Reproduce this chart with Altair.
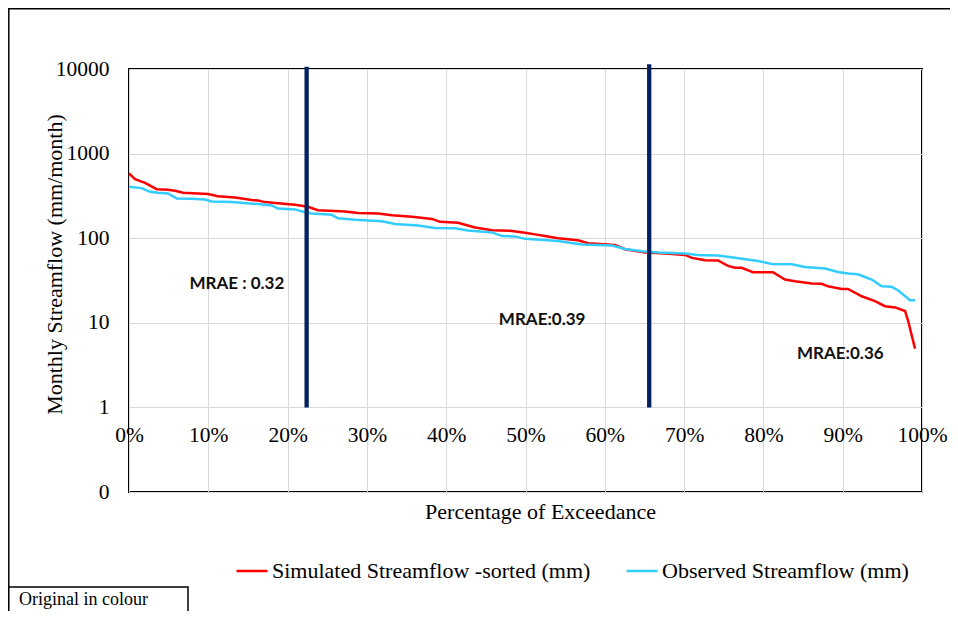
import altair as alt
import pandas as pd

# ---- data ----
series_names = ["Simulated Streamflow -sorted (mm)", "Observed Streamflow (mm)"]
series_colors = ["#ff0000", "#33ccff"]

sim_pct = [0.0, 0.76, 2.02, 3.49, 4.92, 5.80, 6.81, 9.96, 11.22, 13.37, 15.47, 16.27,
           17.15, 18.79, 20.93, 22.57, 23.83, 25.98, 27.24, 28.88, 31.40, 33.17, 35.69,
           38.21, 39.22, 41.49, 43.63, 45.78, 48.30, 49.94, 51.20, 52.46, 54.10, 56.62,
           57.88, 61.29, 62.55, 65.07, 67.59, 70.11, 71.00, 72.64, 74.27, 75.54, 76.42,
           77.26, 78.69, 81.21, 82.72, 83.98, 86.09, 87.35, 88.15, 89.87, 90.67, 92.40,
           94.07, 95.33, 96.60, 97.86, 98.23, 99.12]
sim_flow = [583, 499, 451, 380, 373, 363, 344, 332, 314, 303, 282, 279,
            267, 259, 248, 235, 214, 210, 207, 199, 196, 187, 179,
            169, 156, 152, 134, 124, 122, 116, 111, 106, 100, 94.7,
            87.3, 83.3, 74.1, 67.7, 65.9, 63.4, 58.5, 54.9, 54.5, 47.0, 44.8,
            44.6, 39.6, 39.6, 32.5, 31.0, 29.1, 28.9, 27.0, 25.1, 25.1, 20.6,
            18.0, 15.7, 15.2, 13.8, 10.7, 4.95]

obs_pct = [0.0, 1.60, 2.65, 3.66, 4.92, 6.02, 7.91, 9.58, 10.43, 12.95, 16.27, 18.00,
           18.79, 20.93, 22.19, 23.04, 24.72, 25.56, 26.36, 28.50, 31.90, 33.54, 36.44,
           38.59, 41.11, 42.75, 45.78, 47.04, 48.68, 49.94, 54.10, 57.12, 60.91, 62.55,
           64.69, 66.71, 70.11, 71.75, 74.27, 76.42, 79.32, 81.05, 83.57, 85.25, 87.77,
           89.41, 90.67, 91.93, 92.81, 93.66, 94.92, 96.18, 96.97, 98.07, 98.49, 99.12]
obs_flow = [405, 391, 353, 344, 338, 295, 292, 287, 272, 267, 253, 244,
            224, 219, 203, 196, 192, 189, 172, 165, 159, 147, 141,
            132, 131, 123, 117, 106, 105, 98.2, 92.9, 84.2, 82.0, 74.7,
            70.2, 67.7, 65.9, 63.4, 62.4, 58.8, 53.9, 49.7, 49.3, 45.7, 43.8,
            39.9, 38.2, 37.5, 34.8, 32.5, 27.0, 26.6, 24.3, 19.9, 18.5, 18.5]

divider_pct = [22.4, 65.6]
divider_low = [1, 1]
divider_high = [10650, 11360]

mrae_labels = ["MRAE : 0.32", "MRAE:0.39", "MRAE:0.36"]
mrae_pct = [13.6, 52.1, 89.7]
mrae_flow = [28.6, 10.7, 4.24]

x_ticks = [0, 10, 20, 30, 40, 50, 60, 70, 80, 90, 100]
y_ticks = [0.1, 1, 10, 100, 1000, 10000]

x_title = "Percentage of Exceedance"
y_title = "Monthly Streamflow (mm/month)"
note_text = "Original in colour"

# ---- tables ----
lines_df = pd.concat([
    pd.DataFrame({"pct": sim_pct, "flow": sim_flow, "series": series_names[0], "k": 0}),
    pd.DataFrame({"pct": obs_pct, "flow": obs_flow, "series": series_names[1], "k": 1}),
], ignore_index=True)
div_df = pd.DataFrame({"pct": divider_pct, "lo": divider_low, "hi": divider_high})
mrae_df = pd.DataFrame({"label": mrae_labels, "pct": mrae_pct, "flow": mrae_flow})
one = pd.DataFrame({"t": [note_text]})

SERIF = "Liberation Serif"
W, H = 793, 423

x_scale = alt.Scale(domain=[0, 100], nice=False, zero=False)
y_scale = alt.Scale(type="log", domain=[0.1, 10000], nice=False)

x_axis = alt.Axis(
    values=x_ticks, labelExpr="datum.value + '%'", title=x_title,
    offset=-84.6, domain=False, ticks=False, labelPadding=17,
    labelFont=SERIF, labelFontSize=21.5, labelColor="#000",
    grid=True, gridColor="#d9d9d9", gridWidth=1,
    titleFont=SERIF, titleFontSize=22, titleFontWeight="normal", titleColor="#000",
    titleX=411, titleY=111, titleBaseline="alphabetic", titleAnchor="middle",
    labelFlush=False, labelOverlap=False,
)
y_axis = alt.Axis(
    values=y_ticks,
    labelExpr="datum.value < 0.5 ? '0' : format(datum.value, '.0f')",
    title=y_title, domain=False, ticks=False, labelPadding=20,
    labelFont=SERIF, labelFontSize=21.5, labelColor="#000",
    grid=True, gridColor="#d9d9d9", gridWidth=1,
    titleFont=SERIF, titleFontSize=22, titleFontWeight="normal", titleColor="#000",
    titleAngle=270, titleX=-68, titleY=195, titleBaseline="alphabetic", titleAlign="center",
    labelOverlap=False,
)

lines = alt.Chart(lines_df).mark_line(strokeWidth=2.5).encode(
    x=alt.X("pct:Q", scale=x_scale, axis=x_axis),
    y=alt.Y("flow:Q", scale=y_scale, axis=y_axis),
    color=alt.Color(
        "series:N",
        scale=alt.Scale(domain=series_names, range=series_colors),
        legend=alt.Legend(
            orient="none", legendX=106, legendY=485, direction="horizontal",
            title=None, symbolType="stroke", symbolSize=961, symbolStrokeWidth=2.5,
            labelFont=SERIF, labelFontSize=22, labelColor="#000", labelLimit=600,
            labelOffset=3, columnPadding=30, padding=0,
        ),
    ),
    order=alt.Order("k:Q"),
    detail="series:N",
)

dividers = alt.Chart(div_df).mark_rule(color="#002060", strokeWidth=4.3).encode(
    x=alt.X("pct:Q", scale=x_scale),
    y=alt.Y("lo:Q", scale=y_scale),
    y2="hi:Q",
)

mrae = alt.Chart(mrae_df).mark_text(
    font="Lato", fontWeight="bold", fontSize=17, color="#111", align="center", baseline="middle"
).encode(
    x=alt.X("pct:Q", scale=x_scale),
    y=alt.Y("flow:Q", scale=y_scale),
    text="label:N",
)

# outer frame: only the top and left edges are visible in the reference
frame_top = alt.Chart(one).mark_rule(color="#000", strokeWidth=1.5).encode(
    x=alt.value(-121), x2=alt.value(830), y=alt.value(-60.2)
)
frame_left = alt.Chart(one).mark_rule(color="#000", strokeWidth=1.5).encode(
    x=alt.value(-120.2), y=alt.value(-61), y2=alt.value(560)
)
note_box = alt.Chart(one).mark_rect(fill="white", stroke="#000", strokeWidth=1.5).encode(
    x=alt.value(-120.2), x2=alt.value(59), y=alt.value(518), y2=alt.value(600)
)
note = alt.Chart(one).mark_text(
    font=SERIF, fontSize=18, color="#000", align="left", baseline="middle"
).encode(x=alt.value(-110), y=alt.value(531), text="t:N")

chart = alt.layer(frame_top, frame_left, note_box, note, lines, dividers, mrae).properties(
    width=W, height=H,
    autosize=alt.AutoSizeParams(type="none"),
    padding={"left": 121, "top": 61, "right": 28, "bottom": 119},
    background="white",
).configure_view(stroke="#000", strokeWidth=2)

chart.save("out.html", embed_options={"renderer": "svg", "actions": False})
